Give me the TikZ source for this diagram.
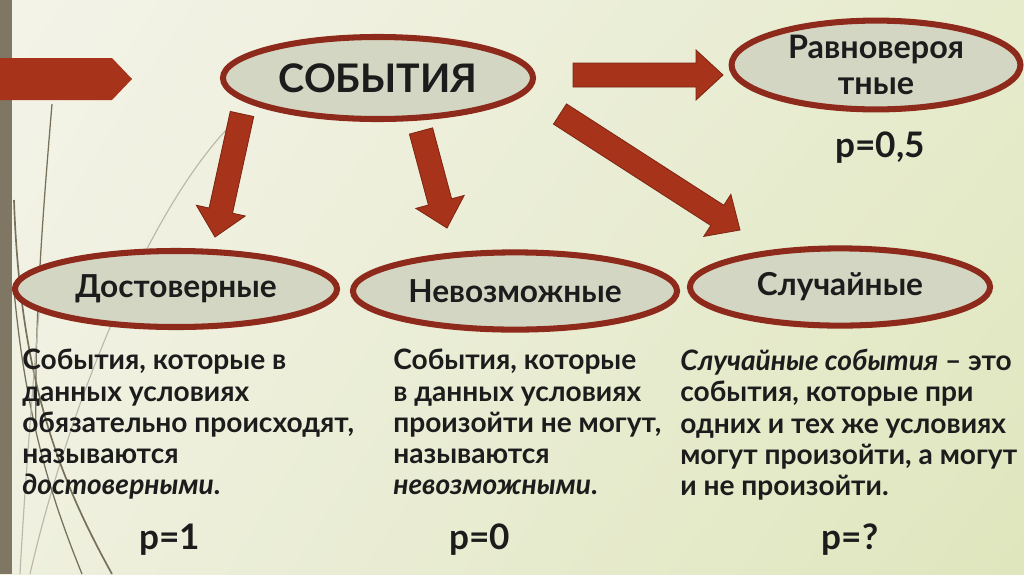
\documentclass[tikz,border=0pt]{standalone}
\usepackage{fontspec}
\setmainfont{Lato}
\usepackage{tikz}
\usetikzlibrary{shapes.geometric,calc,shadings}

\definecolor{rust}{HTML}{A8331B}
\definecolor{rustdark}{HTML}{7E2613}
\definecolor{ovalline}{HTML}{8E2A1B}
\definecolor{ovalfill}{HTML}{D3D6C2}
\definecolor{barbrown}{HTML}{7F7763}
\definecolor{ink}{HTML}{1C1C1C}
\definecolor{wispdark}{HTML}{77715C}
\definecolor{wisplight}{HTML}{B9B8AA}
\definecolor{bgul}{HTML}{F4F3E9}
\definecolor{bgur}{HTML}{E6EBCC}
\definecolor{bgll}{HTML}{EFF0DF}
\definecolor{bglr}{HTML}{DFE6BD}

\tikzset{
	oval/.style={ellipse,draw=ovalline,line width=4.3pt,fill=ovalfill,inner sep=0pt,
		text=ink,font=\fontsize{22.5}{26}\selectfont\bfseries,align=center},
	desc/.style={anchor=north west,inner sep=0pt,align=left,text=ink,
		font=\fontsize{20}{22.2}\selectfont\bfseries},
	prob/.style={anchor=base,inner sep=0pt,text=ink,font=\fontsize{25}{28}\selectfont\bfseries},
	arrowfill/.style={fill=rust,draw=rustdark,line width=.6pt,line join=miter}
}

% block arrow from #1 to #2
\newcommand{\bigarrow}[2]{%
	\path ($(#2)!.675cm!(#1)$) coordinate (ah);
	\filldraw[arrowfill] ($(#1)!.3cm!90:(#2)$) -- ($(ah)!.3cm!90:(#2)$) -- ($(ah)!.625cm!90:(#2)$)
		-- (#2) -- ($(ah)!.625cm!-90:(#2)$) -- ($(ah)!.3cm!-90:(#2)$) -- ($(#1)!.3cm!-90:(#2)$) -- cycle;}

\begin{document}
\begin{tikzpicture}[x=.025cm,y=-.025cm]
	\useasboundingbox (0,0) rectangle (1024,574);
	\shade[upper left=bgul,upper right=bgur,lower left=bgll,lower right=bglr]
		(0,0) rectangle (1024,574);
	
	\fill[barbrown] (0,0) rectangle (12,574);
	\fill[rust] (0,58) -- (112,58) -- (132,79) -- (112,100) -- (0,100) -- cycle;
	
	% grass
	\draw[wispdark,line width=.9pt] (52,104) .. controls (44,200) and (34,320) .. (36,430);
	\draw[wisplight,line width=.8pt] (228,128) .. controls (150,210) and (70,400) .. (30,574);
	\draw[wispdark,line width=1.2pt] (14,200) .. controls (20,380) and (60,480) .. (112,574);
	\draw[wispdark,line width=.9pt] (14,290) .. controls (26,420) and (52,500) .. (82,574);
	\draw[wisplight,line width=.8pt] (40,300) .. controls (30,420) and (24,500) .. (20,574);
	
	\coordinate (a1s) at (242,114);	\coordinate (a1e) at (215,237);
	\coordinate (a2s) at (421,131);	\coordinate (a2e) at (447,228);
	\coordinate (a3s) at (560,114);	\coordinate (a3e) at (740,230);
	\coordinate (a4s) at (573,75);	\coordinate (a4e) at (723,75);
	\bigarrow{a1s}{a1e}
	\bigarrow{a2s}{a2e}
	\bigarrow{a3s}{a3e}
	\bigarrow{a4s}{a4e}
	
	\node[oval,minimum width=7.75cm,minimum height=2.05cm,font=\fontsize{28}{30}\selectfont\bfseries] (sob) at (378,78) {СОБЫТИЯ};
	\node[oval,minimum width=7.22cm,minimum height=2.22cm,font=\fontsize{23}{25.5}\selectfont\bfseries] (rav) at (876,65) {Равновероя\\тные};
	\node[oval,minimum width=8.05cm,minimum height=1.9cm] (dost) at (176,289) {Достоверные};
	\node[oval,minimum width=8.1cm,minimum height=1.93cm] (nevoz) at (515,291) {Невозможные};
	\node[oval,minimum width=7.5cm,minimum height=1.93cm] (sluch) at (840,287) {Случайные};
	
	\node[desc] (tdost) at (22,349) {События, которые в\\данных условиях\\обязательно происходят,\\называются\\\textit{достоверными}.};
	\node[desc] (tnevoz) at (393,349) {События, которые\\в данных условиях\\произойти не могут,\\называются\\\textit{невозможными}.};
	\node[desc] (tsluch) at (680,349) {\textit{Случайные события} – это\\события, которые при\\одних и тех же условиях\\могут произойти, а могут\\и не произойти.};
	
	\node[prob] (prav) at (880,157) {p=0,5};
	\node[prob] (pdost) at (170,549) {p=1};
	\node[prob] (pnevoz) at (480,549) {p=0};
	\node[prob] (psluch) at (850,549) {p=?};
\end{tikzpicture}
\end{document}
